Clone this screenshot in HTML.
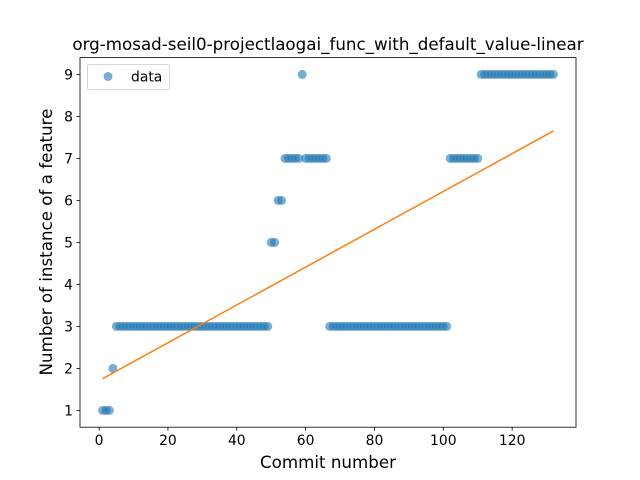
<!DOCTYPE html>
<html><head><meta charset="utf-8"><style>
html,body{margin:0;padding:0;background:#fff;}
svg{display:block;font-family:"DejaVu Sans","Liberation Sans",sans-serif;}
</style></head><body>
<svg id="chart" width="640" height="480" xmlns="http://www.w3.org/2000/svg"></svg>
<script>
// data: [start, end, value] runs of commit numbers
const runStarts = [1, 4, 5, 50, 52, 54, 59, 60, 67, 102, 111];
const runEnds   = [3, 4, 49, 51, 53, 58, 59, 66, 101, 110, 132];
const runValues = [1, 2, 3, 5, 6, 7, 9, 7, 3, 7, 9];
const xTicks = [0, 20, 40, 60, 80, 100, 120];
const yTicks = [1, 2, 3, 4, 5, 6, 7, 8, 9];

const xs = [], ys = [];
for (let r = 0; r < runStarts.length; r++) {
  for (let c = runStarts[r]; c <= runEnds[r]; c++) { xs.push(c); ys.push(runValues[r]); }
}
const L = 80, R = 576, T = 57.6, B = 427.2;
const xmin = Math.min(...xs), xmax = Math.max(...xs), ymin = Math.min(...ys), ymax = Math.max(...ys);
const x0 = xmin - 0.05 * (xmax - xmin), x1 = xmax + 0.05 * (xmax - xmin);
const y0 = ymin - 0.05 * (ymax - ymin), y1 = ymax + 0.05 * (ymax - ymin);
const sx = v => L + (v - x0) / (x1 - x0) * (R - L);
const sy = v => B - (v - y0) / (y1 - y0) * (B - T);
const svg = document.getElementById('chart');
const NS = 'http://www.w3.org/2000/svg';
function mk(tag, attrs, parent) {
  const e = document.createElementNS(NS, tag);
  for (const k in attrs) e.setAttribute(k, attrs[k]);
  (parent || svg).appendChild(e);
  return e;
}
const pts = mk('g', {});


for (let i = 0; i < xs.length; i++) {
  const c = mk('circle', {cx: sx(xs[i]), cy: sy(ys[i]), r: 4.5, fill: '#1f77b4', 'fill-opacity': 0.6}, pts);
  
  
}
const n = xs.length;
const mx = xs.reduce((a, b) => a + b, 0) / n, my = ys.reduce((a, b) => a + b, 0) / n;
let num = 0, den = 0;
for (let i = 0; i < n; i++) { num += (xs[i] - mx) * (ys[i] - my); den += (xs[i] - mx) ** 2; }
const slope = num / den, icpt = my - slope * mx;
const fit = mk('line', {x1: sx(xmin), y1: sy(icpt + slope * xmin), x2: sx(xmax), y2: sy(icpt + slope * xmax), stroke: '#ff7f0e', 'stroke-width': 1.5});


const frame = mk('rect', {x: L, y: T, width: R - L, height: B - T, fill: 'none', stroke: '#000', 'stroke-width': 0.8});


xTicks.forEach(t => {
  const g = mk('g', {});
  
  
  mk('line', {x1: sx(t), x2: sx(t), y1: B, y2: B + 3.5, stroke: '#000', 'stroke-width': 0.8}, g);
  const tx = mk('text', {x: sx(t), y: B + 18, 'text-anchor': 'middle', 'font-size': 13.9}, g);
  tx.textContent = t;
});
yTicks.forEach(t => {
  const g = mk('g', {});
  
  
  mk('line', {x1: L - 3.5, x2: L, y1: sy(t), y2: sy(t), stroke: '#000', 'stroke-width': 0.8}, g);
  const tx = mk('text', {x: L - 7, y: sy(t) + 5, 'text-anchor': 'end', 'font-size': 13.9}, g);
  tx.textContent = t;
});
</script>
<script>
(function(){
  const svg = document.getElementById('chart');
  svg.insertAdjacentHTML('beforeend',
    '<text x="328" y="50" text-anchor="middle" font-size="16.7">org-mosad-seil0-projectlaogai_func_with_default_value-linear</text>' +
    '<text x="328" y="468" text-anchor="middle" font-size="16.7">Commit number</text>' +
    '<text x="0" y="0" transform="translate(52,242) rotate(-90)" text-anchor="middle" font-size="16.7">Number of instance of a feature</text>' +
    '<g><rect x="87.5" y="64.5" width="82" height="25" rx="2" fill="#fff" fill-opacity="0.8" stroke="#ccc" stroke-width="0.8"/>' +
    '<circle cx="108" cy="76.5" r="4.5" fill="#1f77b4" fill-opacity="0.6"/>' +
    '<text x="131" y="81.5" font-size="13.9">data</text></g>');
})();
</script>
</body></html>
